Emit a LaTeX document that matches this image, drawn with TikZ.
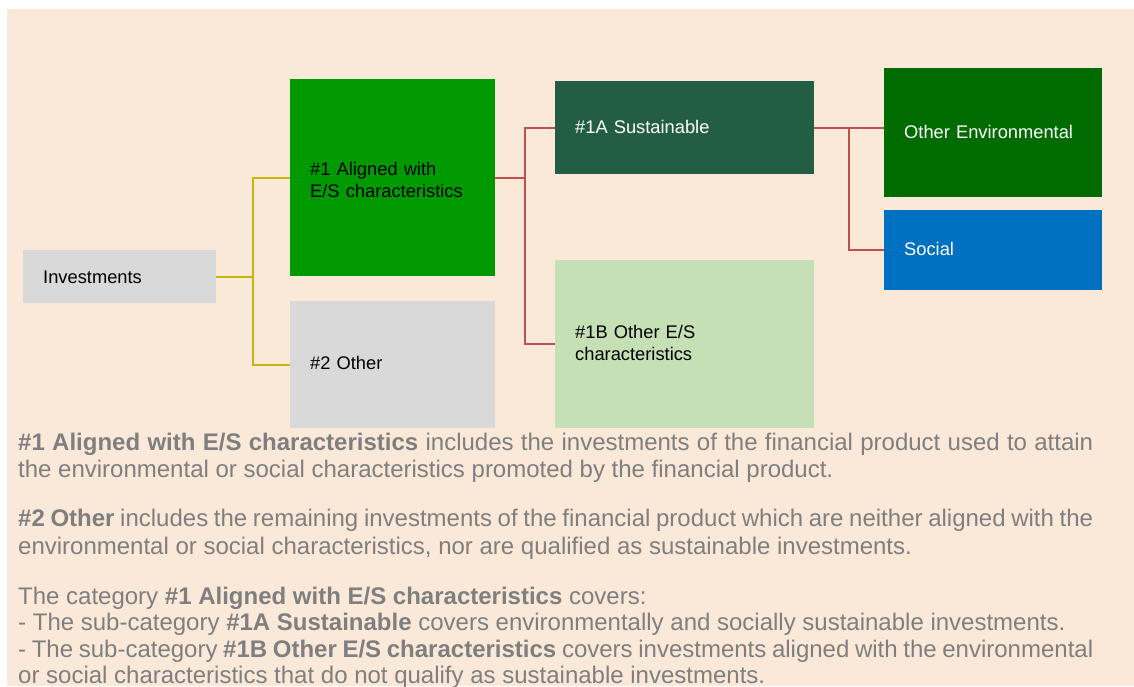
\documentclass[tikz,border=0pt]{standalone}
\usepackage{fontspec}
\setmainfont{Liberation Sans}
\definecolor{peach}{HTML}{FAE8D8}
\definecolor{boxgrey}{HTML}{D9D9D9}
\definecolor{greenA}{HTML}{009900}
\definecolor{greenS}{HTML}{235E44}
\definecolor{greenE}{HTML}{006B00}
\definecolor{blueS}{HTML}{0070C0}
\definecolor{greenL}{HTML}{C5E0B4}
\definecolor{yline}{HTML}{C9B50A}
\definecolor{rline}{HTML}{C0504D}
\definecolor{bodygrey}{HTML}{7F7F7F}
\newcommand{\shiftv}[2]{\raisebox{#1}[\height][\depth]{#2}}
\newcommand{\justline}[1]{\makebox[1075pt][s]{#1}}
\tikzset{
  catbox/.style 2 args={draw=none, anchor=north west, inner xsep=20pt, inner ysep=0pt,
    text width=#1-40pt, minimum height=#2, align=left,
    font=\fontsize{18.3}{22.5}\selectfont},
  yconn/.style={draw=yline, line width=2pt},
  rconn/.style={draw=rline, line width=2pt},
  bodyline/.style={anchor=base west, inner sep=0pt, text=bodygrey,
    font=\fontsize{24}{27.5}\selectfont}
}
\begin{document}
\begin{tikzpicture}[x=1pt,y=-1pt]
\useasboundingbox (0,0) rectangle (1134,686);
\clip (0,0) rectangle (1134,686);
\fill[white] (0,0) rectangle (1134,686);
\fill[peach] (7,9) rectangle (1134,686);

\node[catbox={193pt}{53pt}, fill=boxgrey, text=black] (inv) at (23,250) {\shiftv{-1pt}{Investments}};
\node[catbox={205pt}{197pt}, fill=greenA, text=black] (a1) at (290,79) {\shiftv{-2.5pt}{\parbox[b]{165pt}{\#1 Aligned with\\E/S characteristics}}};
\node[catbox={205pt}{127pt}, fill=boxgrey, text=black] (o2) at (290,301) {\shiftv{2pt}{\#2 Other}};
\node[catbox={259pt}{93pt}, fill=greenS, text=white] (s1a) at (555,81) {\shiftv{1pt}{\#1A Sustainable}};
\node[catbox={259pt}{168pt}, fill=greenL, text=black] (s1b) at (555,260) {\shiftv{1pt}{\parbox[b]{219pt}{\#1B Other E/S\\characteristics}}};
\node[catbox={218pt}{129pt}, fill=greenE, text=white] (env) at (884,68) {\shiftv{1pt}{Other Environmental}};
\node[catbox={218pt}{80pt}, fill=blueS, text=white] (soc) at (884,210) {\shiftv{1pt}{Social}};

\draw[yconn] (inv.east) -- ++(37,0) |- (a1.west);
\draw[yconn] (inv.east) -- ++(37,0) |- (o2.west);
\draw[rconn] (a1.east) -- ++(30,0) |- (s1a.west);
\draw[rconn] (a1.east) -- ++(30,0) |- (s1b.west);
\draw[rconn] (s1a.east) -- (env.west |- s1a.east);
\draw[rconn] (s1a.east) -- ++(35,0) |- (soc.west);

\node[bodyline] (t1) at (18,450) {\justline{\textbf{\#1 Aligned with E/S characteristics} includes the investments of the financial product used to attain}};
\node[bodyline] (t2) at (18,477) {the environmental or social characteristics promoted by the financial product.};
\node[bodyline] (t3) at (18,526.5) {\justline{\textbf{\#2 Other} includes the remaining investments of the financial product which are neither aligned with the}};
\node[bodyline] (t4) at (18,554) {environmental or social characteristics, nor are qualified as sustainable investments.};
\node[bodyline] (t5) at (18,604) {The category \textbf{\#1 Aligned with E/S characteristics} covers:};
\node[bodyline] (t6) at (18,630.7) {- The sub-category \textbf{\#1A Sustainable} covers environmentally and socially sustainable investments.};
\node[bodyline] (t7) at (18,657) {\justline{- The sub-category \textbf{\#1B Other E/S characteristics} covers investments aligned with the environmental}};
\node[bodyline] (t8) at (18,683.5) {or social characteristics that do not qualify as sustainable investments.};
\end{tikzpicture}
\end{document}
